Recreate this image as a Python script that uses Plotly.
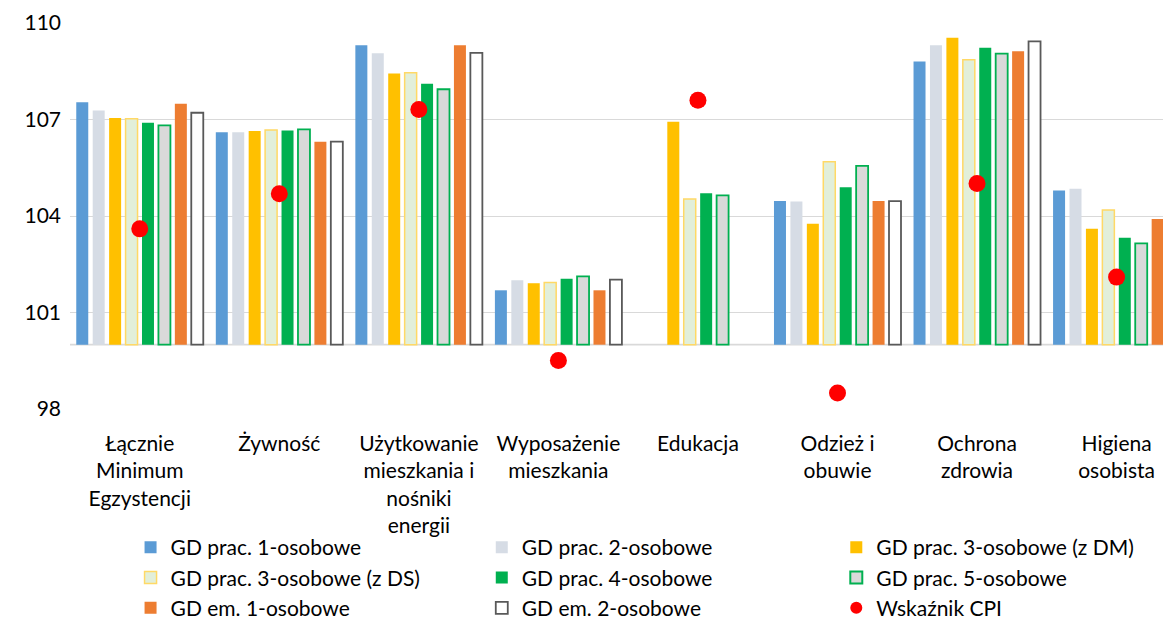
import plotly.graph_objects as go

categories = [
    "Łącznie<br>Minimum<br>Egzystencji",
    "Żywność",
    "Użytkowanie<br>mieszkania i<br>nośniki<br>energii",
    "Wyposażenie<br>mieszkania",
    "Edukacja",
    "Odzież i<br>obuwie",
    "Ochrona<br>zdrowia",
    "Higiena<br>osobista",
]

gd_prac_1 = [107.54, 106.60, 109.31, 101.69, None, 104.47, 108.80, 104.79]
gd_prac_2 = [107.28, 106.60, 109.06, 102.00, None, 104.45, 109.31, 104.85]
gd_prac_3_dm = [107.05, 106.64, 108.43, 101.91, 106.93, 103.76, 109.54, 103.60]
gd_prac_3_ds = [107.02, 106.67, 108.45, 101.93, 104.53, 105.69, 108.86, 104.19]
gd_prac_4 = [106.90, 106.66, 108.11, 102.05, 104.71, 104.89, 109.23, 103.32]
gd_prac_5 = [106.82, 106.69, 107.94, 102.12, 104.64, 105.56, 109.05, 103.15]
gd_em_1 = [107.49, 106.31, 109.31, 101.69, None, 104.47, 109.12, 103.91]
gd_em_2 = [107.21, 106.31, 109.07, 102.02, None, 104.46, 109.43, 103.98]
cpi = [103.60, 104.69, 107.31, 99.51, 107.60, 98.50, 105.01, 102.10]

base_value = 100

series = [
    ("GD prac. 1-osobowe", gd_prac_1, "#5B9BD5", None, 0, "legend"),
    ("GD prac. 2-osobowe", gd_prac_2, "#D6DCE5", None, 0, "legend2"),
    ("GD prac. 3-osobowe (z DM)", gd_prac_3_dm, "#FFC000", None, 0, "legend3"),
    ("GD prac. 3-osobowe (z DS)", gd_prac_3_ds, "#E2EFDA", "#FFD966", 1.5, "legend"),
    ("GD prac. 4-osobowe", gd_prac_4, "#00B050", None, 0, "legend2"),
    ("GD prac. 5-osobowe", gd_prac_5, "#D9D9D9", "#00B050", 1.8, "legend3"),
    ("GD em. 1-osobowe", gd_em_1, "#ED7D31", None, 0, "legend"),
    ("GD em. 2-osobowe", gd_em_2, "#FFFFFF", "#595959", 1.8, "legend2"),
]

FONT = "Lato"
FS = 21

fig = go.Figure()
for i, (name, vals, fill, line, lw, lg) in enumerate(series):
    fig.add_trace(go.Bar(
        name=name,
        x=list(range(len(categories))),
        y=[None if v is None else v - base_value for v in vals],
        base=base_value,
        marker=dict(color=fill, line=dict(color=line if line else fill, width=lw)),
        legend=lg,
        legendgroup="g%d" % i,
    ))

fig.add_trace(go.Scatter(
    name="Wskaźnik CPI",
    x=list(range(len(categories))),
    y=cpi,
    mode="markers",
    marker=dict(color="#FF0000", size=17),
    legend="legend3",
    legendgroup="gcpi",
))

leg_common = dict(
    font=dict(family=FONT, size=FS, color="#000000"),
    orientation="v",
    yanchor="top",
    xanchor="left",
    y=-0.306,
    bgcolor="rgba(0,0,0,0)",
    traceorder="normal",
    tracegroupgap=1,
)

fig.update_layout(
    width=1163,
    height=618,
    margin=dict(l=62, r=0, t=15, b=217, autoexpand=False),
    paper_bgcolor="white",
    plot_bgcolor="white",
    barmode="group",
    bargap=0.058,
    bargroupgap=0.27,
    font=dict(family=FONT, size=FS, color="#000000"),
    xaxis=dict(
        range=[-0.5, 7.39],
        tickmode="array",
        tickvals=list(range(len(categories))),
        ticktext=categories,
        showgrid=False,
        showline=False,
        zeroline=False,
        ticks="",
        ticklabelstandoff=20,
        automargin=False,
        tickfont=dict(family=FONT, size=FS, color="#000000"),
    ),
    yaxis=dict(
        range=[98, 110],
        tick0=98,
        dtick=3,
        showgrid=True,
        gridcolor="#D9D9D9",
        gridwidth=1.3,
        zeroline=False,
        showline=False,
        ticks="",
        ticklabelstandoff=8,
        automargin=False,
        tickfont=dict(family=FONT, size=FS, color="#000000"),
    ),
    legend=dict(x=0.055, **leg_common),
    legend2=dict(x=0.374, **leg_common),
    legend3=dict(x=0.696, itemsizing="constant", **leg_common),
    shapes=[dict(
        type="line", xref="paper", yref="y", x0=0, x1=1, y0=base_value, y1=base_value,
        line=dict(color="#D9D9D9", width=1.8), layer="below",
    )],
)

fig.write_html("out.html")
